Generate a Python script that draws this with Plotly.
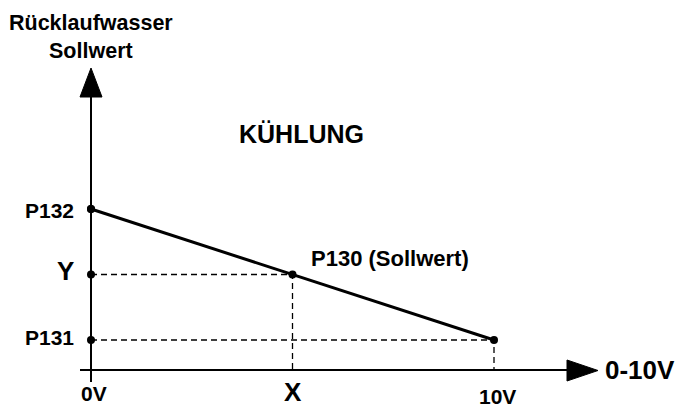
import plotly.graph_objects as go

# ---- data ----
voltage_points = [0, 5, 10]          # 0V, X, 10V
setpoint_points = [3, 2, 1]          # P132, P130 (Y), P131
axis_dots_v = [0, 0, 0]
axis_dots_s = [3, 2, 1]
point_labels = ["P132", "Y", "P131"]
x_tick_labels = ["0V", "X", "10V"]
x_axis_title = "0-10V"
y_axis_title = "Rücklaufwasser<br>Sollwert"
mode_title = "KÜHLUNG"
setpoint_label = "P130 (Sollwert)"

# ---- layout geometry (pixel mapping) ----
W, H = 679, 410
X0PX, XPX_PER = 91, 40.3        # pixel of v=0, pixels per volt
S1PX, SPX_PER = 340, 65.5       # pixel of s=1, pixels per unit

def v_of(px):
    return (px - X0PX) / XPX_PER

def s_of(py):
    return 1 + (S1PX - py) / SPX_PER

x_range = [v_of(0), v_of(W)]
y_range = [s_of(H), s_of(0)]
axis_y_s = s_of(370)   # baseline of horizontal axis

FONT = "Liberation Sans, Arial, sans-serif"
fig = go.Figure()

# axes lines
fig.add_trace(go.Scatter(x=[v_of(80), v_of(570)], y=[axis_y_s, axis_y_s], mode="lines",
                         line=dict(color="black", width=2), hoverinfo="skip", showlegend=False))
fig.add_trace(go.Scatter(x=[0, 0], y=[s_of(382), s_of(95)], mode="lines",
                         line=dict(color="black", width=2), hoverinfo="skip", showlegend=False))
# arrowheads
fig.add_trace(go.Scatter(x=[v_of(567), v_of(598), v_of(567), v_of(567)],
                         y=[s_of(360), s_of(370.5), s_of(381), s_of(360)],
                         mode="lines", fill="toself", fillcolor="black",
                         line=dict(color="black", width=1), hoverinfo="skip", showlegend=False))
fig.add_trace(go.Scatter(x=[v_of(80), v_of(91), v_of(102), v_of(80)],
                         y=[s_of(97), s_of(68), s_of(97), s_of(97)],
                         mode="lines", fill="toself", fillcolor="black",
                         line=dict(color="black", width=1), hoverinfo="skip", showlegend=False))

# dashed guides
for i in (1, 2):
    v, s = voltage_points[i], setpoint_points[i]
    fig.add_trace(go.Scatter(x=[0, v, v], y=[s, s, axis_y_s], mode="lines",
                             line=dict(color="black", width=1.3, dash="6px,4px"),
                             hoverinfo="skip", showlegend=False))

# main characteristic line
fig.add_trace(go.Scatter(x=voltage_points, y=setpoint_points, mode="lines",
                         line=dict(color="black", width=3), showlegend=False))
# dots
fig.add_trace(go.Scatter(x=voltage_points + axis_dots_v, y=setpoint_points + axis_dots_s,
                         mode="markers", marker=dict(color="black", size=8), showlegend=False))

ann = []
def add_text(text, x, y, size, xanchor="center", yanchor="middle"):
    ann.append(dict(text=text, x=x, y=y, xref="x", yref="y", showarrow=False,
                    xanchor=xanchor, yanchor=yanchor,
                    font=dict(family=FONT, size=size, color="black", weight="bold")))

# y-axis point labels
label_y = [s_of(210), s_of(271), s_of(337)]
label_sizes = [21, 26, 21]
for lab, ly, fs in zip(point_labels, label_y, label_sizes):
    add_text(lab, v_of(76), ly, fs, xanchor="right")
# x tick labels (anchored to the bottom so they stay inside the picture)
tick_x = [v_of(94), voltage_points[1], v_of(497)]
tick_y = [s_of(407), s_of(409), s_of(410)]
tick_sz = [21, 26, 21]
for lab, tx, ty, fs in zip(x_tick_labels, tick_x, tick_y, tick_sz):
    add_text(lab, tx, ty, fs, yanchor="bottom")

add_text(x_axis_title, v_of(603), s_of(370), 26, xanchor="left")
add_text(y_axis_title, 0, s_of(37), 21.5)
add_text(mode_title, v_of(301), s_of(134), 25)
add_text(setpoint_label, v_of(309), s_of(258), 22, xanchor="left")

fig.update_layout(
    width=W, height=H, margin=dict(l=0, r=0, t=0, b=0),
    paper_bgcolor="white", plot_bgcolor="white",
    xaxis=dict(range=x_range, visible=False, fixedrange=True),
    yaxis=dict(range=y_range, visible=False, fixedrange=True),
    annotations=ann, showlegend=False,
)
fig.write_html("out.html", config={"displayModeBar": False},
               post_script="document.body.style.margin='0';document.body.style.overflow='hidden';")
